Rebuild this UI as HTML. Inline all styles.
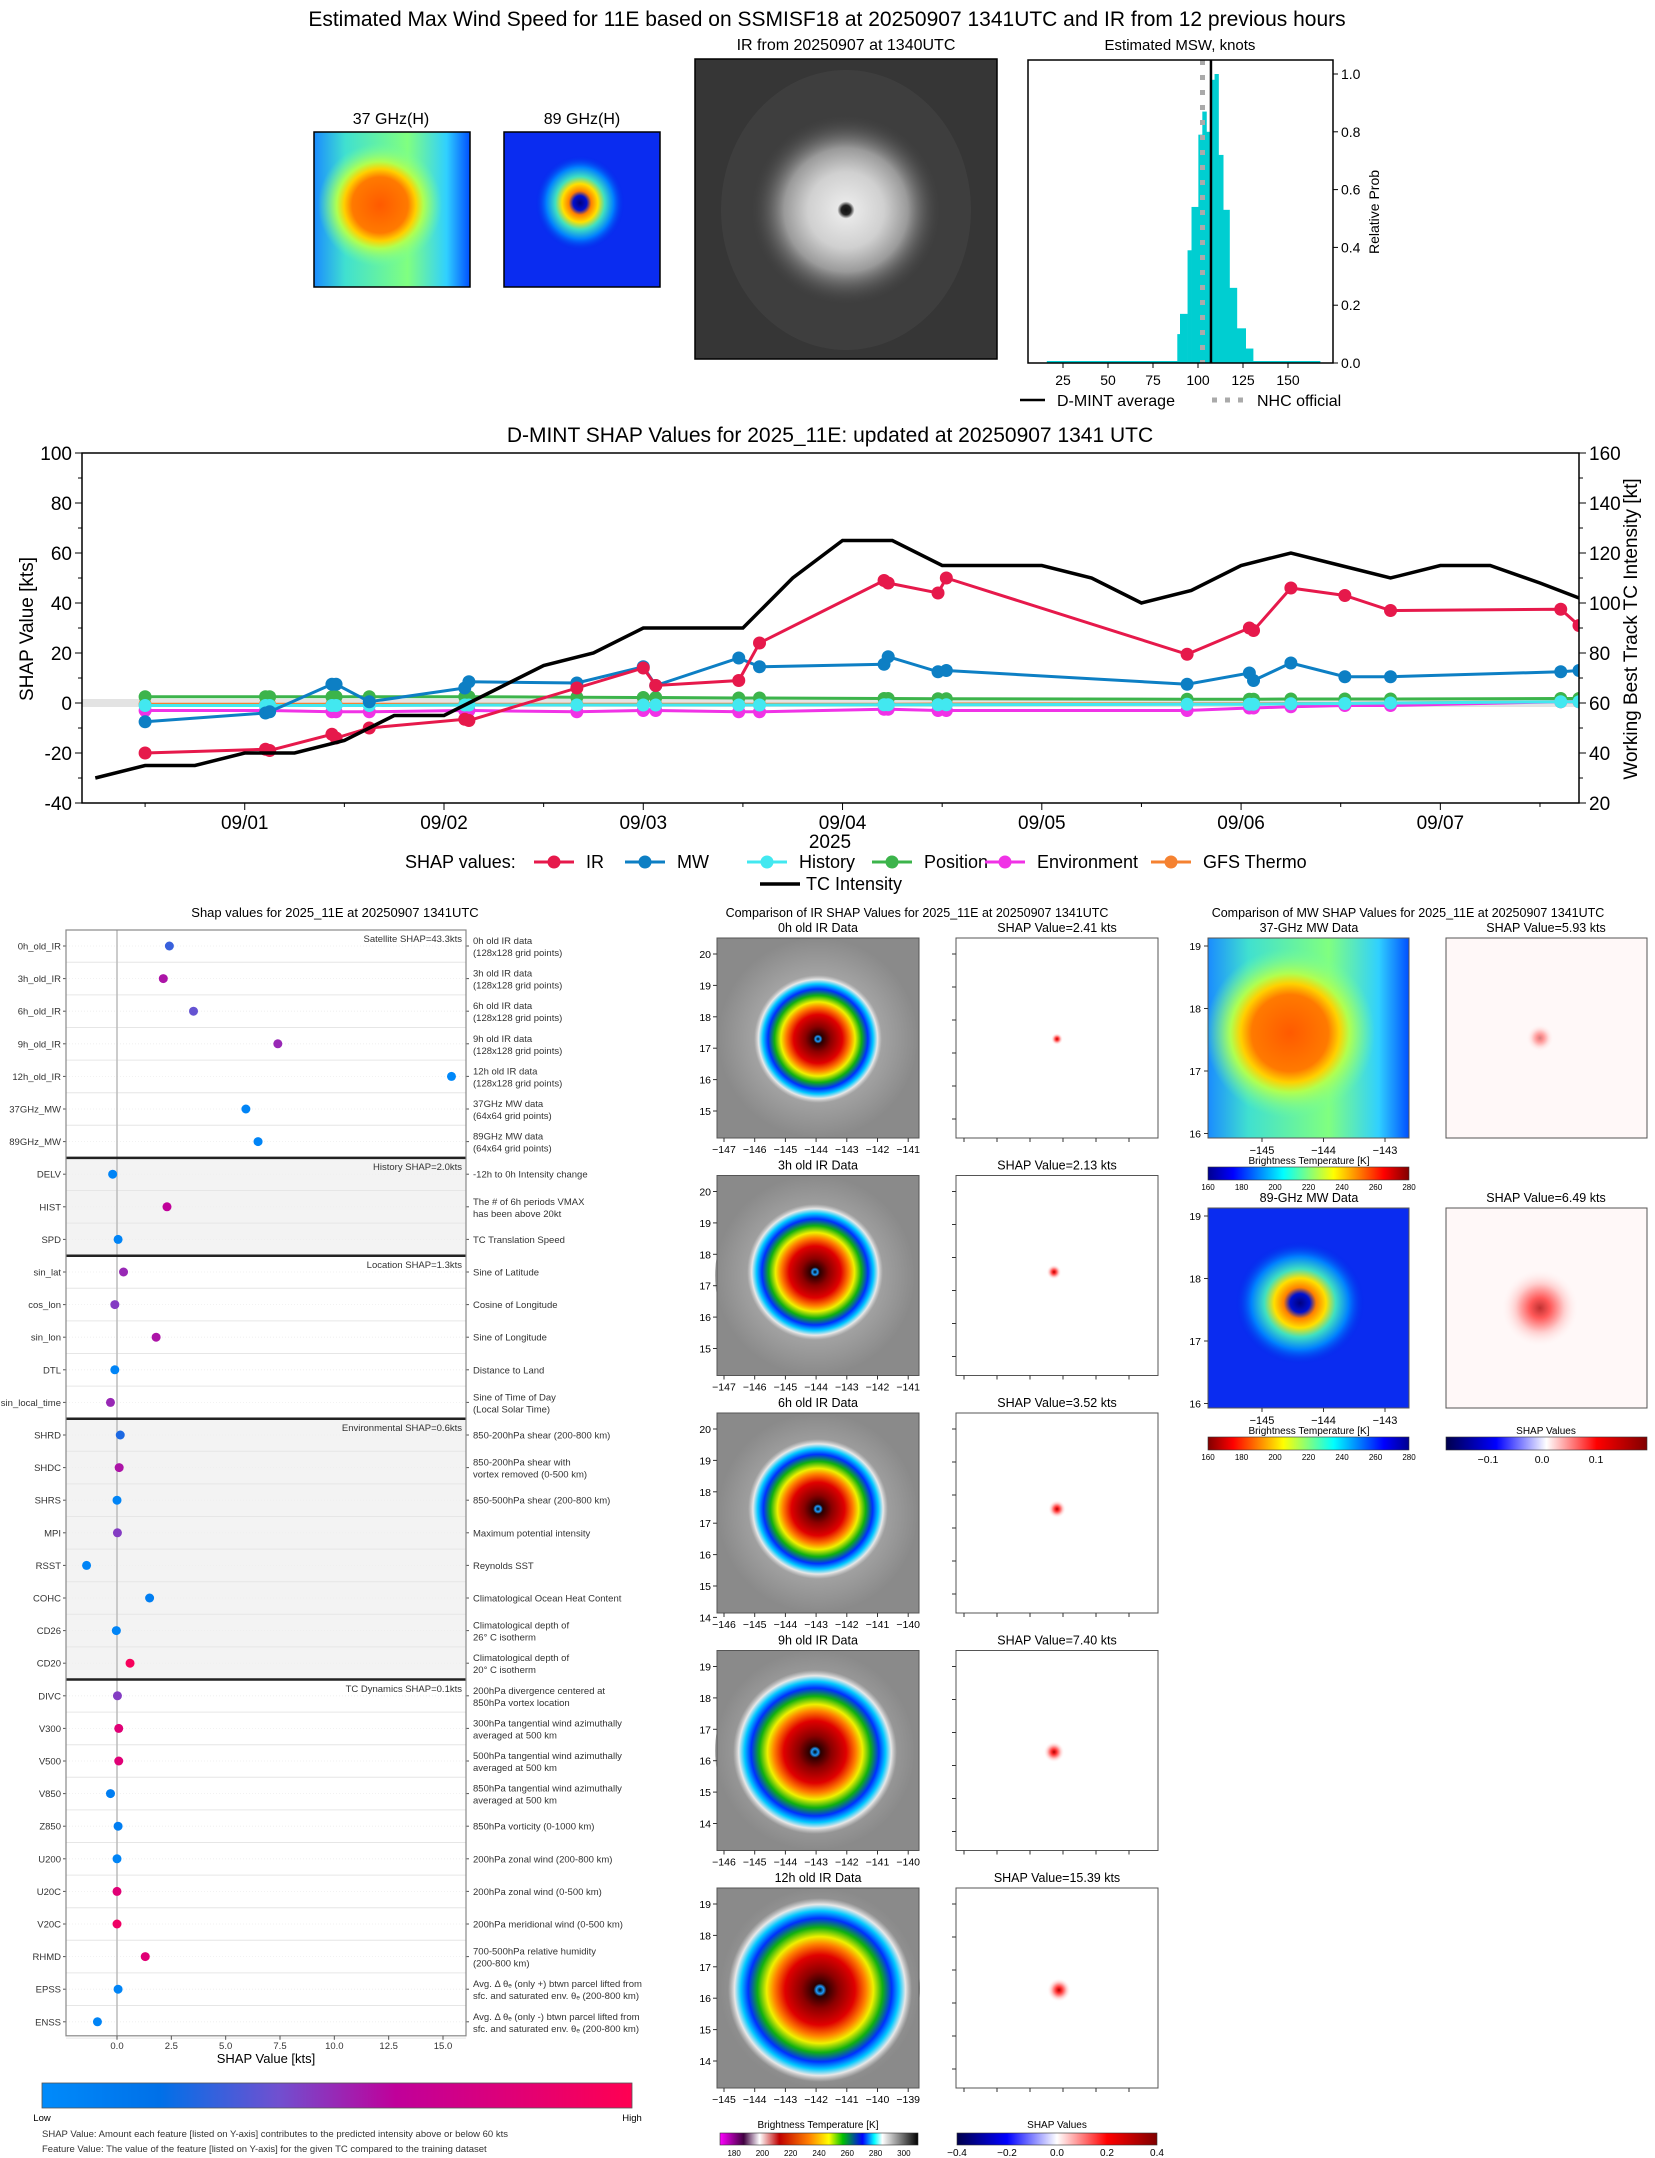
<!DOCTYPE html>
<html><head><meta charset="utf-8"><title>D-MINT 11E</title>
<style>
html,body{margin:0;padding:0;background:#fff;}
svg{display:block;font-family:"Liberation Sans","DejaVu Sans",sans-serif;}
</style></head>
<body>
<svg id="fig" xmlns="http://www.w3.org/2000/svg" width="1655" height="2158" viewBox="0 0 1655 2158">
<defs>
<radialGradient id="irEnh" cx="0.5" cy="0.5" r="0.5">
<stop offset="0" stop-color="#000"/><stop offset="0.04" stop-color="#1a9cff"/><stop offset="0.07" stop-color="#2a0000"/>
<stop offset="0.2" stop-color="#8b0000"/><stop offset="0.38" stop-color="#e00000"/><stop offset="0.5" stop-color="#ff8000"/>
<stop offset="0.58" stop-color="#f0f000"/><stop offset="0.68" stop-color="#10b010"/><stop offset="0.78" stop-color="#0030ff"/>
<stop offset="0.86" stop-color="#00c8ff"/><stop offset="0.93" stop-color="#e8e8e8"/><stop offset="1" stop-color="#d0d0d0" stop-opacity="0"/>
</radialGradient>
<radialGradient id="irGray" cx="0.5" cy="0.5" r="0.5">
<stop offset="0" stop-color="#111"/><stop offset="0.05" stop-color="#222"/><stop offset="0.09" stop-color="#e8e8e8"/>
<stop offset="0.4" stop-color="#d0d0d0"/><stop offset="0.65" stop-color="#9a9a9a"/><stop offset="1" stop-color="#444" stop-opacity="0"/>
</radialGradient>
<radialGradient id="cloudBg" cx="0.5" cy="0.5" r="0.5">
<stop offset="0" stop-color="#e0e0e0"/><stop offset="0.6" stop-color="#b0b0b0"/><stop offset="1" stop-color="#8a8a8a"/>
</radialGradient>
<radialGradient id="mw37" cx="0.5" cy="0.5" r="0.5">
<stop offset="0" stop-color="#ff5a00"/><stop offset="0.45" stop-color="#ff7a00"/><stop offset="0.58" stop-color="#ffd000"/>
<stop offset="0.7" stop-color="#b0ff50"/><stop offset="1" stop-color="#70ffa0" stop-opacity="0"/>
</radialGradient>
<linearGradient id="mw37bg" x1="0" y1="0" x2="1" y2="0">
<stop offset="0" stop-color="#1a8cff"/><stop offset="0.2" stop-color="#40e0d0"/><stop offset="0.6" stop-color="#80ff80"/>
<stop offset="0.85" stop-color="#30d0ff"/><stop offset="1" stop-color="#0050ff"/>
</linearGradient>
<radialGradient id="mw89" cx="0.5" cy="0.5" r="0.5">
<stop offset="0" stop-color="#000080"/><stop offset="0.15" stop-color="#0010d0"/><stop offset="0.25" stop-color="#ff8000"/>
<stop offset="0.4" stop-color="#ffe000"/><stop offset="0.55" stop-color="#40e0c0"/><stop offset="0.75" stop-color="#0080ff"/>
<stop offset="1" stop-color="#0020e8" stop-opacity="0"/>
</radialGradient>
<radialGradient id="shapDot" cx="0.5" cy="0.5" r="0.5">
<stop offset="0" stop-color="#b00000"/><stop offset="0.25" stop-color="#ff3030"/><stop offset="0.6" stop-color="#ffc0c0"/><stop offset="1" stop-color="#fff" stop-opacity="0"/>
</radialGradient>
<linearGradient id="jet" x1="0" y1="0" x2="1" y2="0">
<stop offset="0" stop-color="#00008f"/><stop offset="0.125" stop-color="#0000ff"/><stop offset="0.375" stop-color="#00ffff"/>
<stop offset="0.625" stop-color="#ffff00"/><stop offset="0.875" stop-color="#ff0000"/><stop offset="1" stop-color="#800000"/>
</linearGradient>
<linearGradient id="jetr" x1="1" y1="0" x2="0" y2="0">
<stop offset="0" stop-color="#00008f"/><stop offset="0.125" stop-color="#0000ff"/><stop offset="0.375" stop-color="#00ffff"/>
<stop offset="0.625" stop-color="#ffff00"/><stop offset="0.875" stop-color="#ff0000"/><stop offset="1" stop-color="#800000"/>
</linearGradient>
<linearGradient id="seis" x1="0" y1="0" x2="1" y2="0">
<stop offset="0" stop-color="#00004c"/><stop offset="0.25" stop-color="#0000ff"/><stop offset="0.5" stop-color="#ffffff"/>
<stop offset="0.75" stop-color="#ff0000"/><stop offset="1" stop-color="#800000"/>
</linearGradient>
<linearGradient id="irbar" x1="0" y1="0" x2="1" y2="0">
<stop offset="0" stop-color="#ff00ff"/><stop offset="0.12" stop-color="#400040"/><stop offset="0.2" stop-color="#fff"/>
<stop offset="0.3" stop-color="#c00000"/><stop offset="0.45" stop-color="#ff8000"/><stop offset="0.55" stop-color="#ffff00"/>
<stop offset="0.62" stop-color="#00c000"/><stop offset="0.72" stop-color="#0000ff"/><stop offset="0.78" stop-color="#00ffff"/>
<stop offset="0.82" stop-color="#ffffff"/><stop offset="1" stop-color="#000"/>
</linearGradient>
<linearGradient id="shapcm" x1="0" y1="0" x2="1" y2="0">
<stop offset="0" stop-color="#008bfb"/><stop offset="0.2" stop-color="#0070e8"/><stop offset="0.4" stop-color="#7050d0"/>
<stop offset="0.6" stop-color="#c0009a"/><stop offset="1" stop-color="#ff0052"/>
</linearGradient>
</defs>

<text x="827" y="26" font-size="21" text-anchor="middle">Estimated Max Wind Speed for 11E based on SSMISF18 at 20250907 1341UTC and IR from 12 previous hours</text>

<g>
<text x="391" y="124" font-size="16" text-anchor="middle">37 GHz(H)</text>
<rect x="314" y="132" width="156" height="155" fill="url(#mw37bg)"/>
<ellipse cx="380" cy="205" rx="62" ry="62" fill="url(#mw37)"/>
<rect x="314" y="132" width="156" height="155" fill="none" stroke="#000" stroke-width="1.5"/>
</g>
<g>
<text x="582" y="124" font-size="16" text-anchor="middle">89 GHz(H)</text>
<rect x="504" y="132" width="156" height="155" fill="#0a2cf0"/>
<ellipse cx="580" cy="203" rx="45" ry="48" fill="url(#mw89)"/>
<rect x="504" y="132" width="156" height="155" fill="none" stroke="#000" stroke-width="1.5"/>
</g>
<g>
<text x="846" y="50" font-size="16" text-anchor="middle">IR from 20250907 at 1340UTC</text>
<rect x="695" y="59" width="302" height="300" fill="#363636"/>
<ellipse cx="846" cy="210" rx="125" ry="140" fill="#454545" opacity="0.6"/>
<circle cx="846" cy="210" r="95" fill="url(#irGray)"/>
<rect x="695" y="59" width="302" height="300" fill="none" stroke="#000" stroke-width="1.5"/>
</g>
<g id="hist"></g>
<g id="ts"></g>
<g id="feat"></g>
<g id="irc"></g>
<g id="mwc"></g>
</svg>

<script>
const NS='http://www.w3.org/2000/svg';
function el(tag,attrs,parent){const e=document.createElementNS(NS,tag);for(const k in attrs)e.setAttribute(k,attrs[k]);parent.appendChild(e);return e;}
function tx(x,y,s,size,anchor,parent){const t=el('text',{x:x,y:y,'font-size':size,'text-anchor':anchor||'middle'},parent);t.textContent=s;return t;}

const histEdges=[88.5,90,94.2,96.4,100.2,102.4,104.7,107.3,109.2,111.4,114,117.5,121.6,126.5,130.6];
const histProb=[0.10,0.17,0.39,0.54,0.79,0.87,0.80,0.98,1.0,0.72,0.53,0.26,0.12,0.05];
const histTicksX=[25,50,75,100,125,150];
const histTicksY=[0,0.2,0.4,0.6,0.8,1.0];
const dmintAvg=107.2;
const nhcOfficial=102.5;
(function(){
 const g=document.getElementById('hist');
 const L=1028,R=1333,T=60,B=363;
 const hx=v=>1063+(v-25)*1.8, hy=p=>B-(p)*(B-74);
 tx(1180,50,'Estimated MSW, knots',15,'middle',g);
 const base=el('line',{x1:hx(16),x2:hx(168),y1:hy(0)-1,y2:hy(0)-1,stroke:'#00ced1','stroke-width':2},g);
 
 
 for(let i=0;i<histProb.length;i++){
  const r=el('rect',{x:hx(histEdges[i]),y:hy(histProb[i]),width:hx(histEdges[i+1])-hx(histEdges[i])+0.3,height:hy(0)-hy(histProb[i]),fill:'#00ced1'},g);
  
  
 }
 const nl=el('line',{x1:hx(nhcOfficial),x2:hx(nhcOfficial),y1:T,y2:B,stroke:'#aaa','stroke-width':5,'stroke-dasharray':'5,10'},g);
 
 
 const dl=el('line',{x1:hx(dmintAvg),x2:hx(dmintAvg),y1:T,y2:B,stroke:'#000','stroke-width':2.5},g);
 
 
 const fr=el('rect',{x:L,y:T,width:R-L,height:B-T,fill:'none',stroke:'#000','stroke-width':1.5},g);
 
 
 histTicksX.forEach(v=>{el('line',{x1:hx(v),x2:hx(v),y1:B,y2:B+5,stroke:'#000'},g);const t=tx(hx(v),B+22,String(v),14,'middle',g);});
 histTicksY.forEach(v=>{el('line',{x1:R,x2:R+5,y1:hy(v),y2:hy(v),stroke:'#000'},g);const t=tx(R+8,hy(v)+5,v.toFixed(1),14,'start',g);});
 const yl=tx(0,0,'Relative Prob',14,'middle',g);yl.setAttribute('transform','translate(1379,212) rotate(-90)');
 
 el('line',{x1:1020,x2:1045,y1:400,y2:400,stroke:'#000','stroke-width':2.5},g);
 const l1=tx(1057,406,'D-MINT average',16,'start',g);
 el('line',{x1:1212,x2:1244,y1:400,y2:400,stroke:'#aaa','stroke-width':5,'stroke-dasharray':'5,8'},g);
 const l2=tx(1257,406,'NHC official',16,'start',g);
})();

const tcHours=[6,12,18,24,30,36,42,48,54,60,66,72,78,84,90,96,102,108,114,120,126,132,138,144,150,156,162,168,174,180,184.7];
const tcIntensity=[30,35,35,40,40,45,55,55,65,75,80,90,90,90,110,125,125,115,115,115,110,100,105,115,120,115,110,115,115,108,102];
const shapHours=[12,26.5,27,34.5,35,39,50.5,51,64,72,73.5,83.5,86,101,101.5,107.5,108.5,137.5,145,145.5,150,156.5,162,182.5,184.7];
const shapIR=[-20,-18.5,-19,-12.5,-14,-10,-6.5,-7,6,14,7,9,24,49,48,44,50,19.5,30,29,46,43,37,37.5,31];
const shapMW=[-7.5,-4,-3.5,7.5,7.5,0.5,6,8.5,8,14.5,7,18,14.5,15.5,18.5,12.5,13,7.5,12,9,16,10.5,10.5,12.5,13];
const shapHistory=[-1,-1,-1,-1,-1,-1,-0.8,-0.8,-0.8,-0.8,-0.8,-0.8,-0.8,-0.7,-0.7,-0.7,-0.7,-0.5,-0.5,-0.5,-0.3,-0.2,0,0.5,0.5];
const shapPosition=[2.5,2.5,2.5,2.5,2.5,2.5,2.5,2.5,2.3,2.2,2.2,2,2,1.8,1.8,1.7,1.7,1.5,1.5,1.5,1.6,1.6,1.6,1.8,1.8];
const shapEnvironment=[-3,-3,-3,-3.5,-3.5,-3.5,-3,-3,-3.5,-3,-3,-3.5,-3.5,-2.5,-2.5,-3,-3,-3,-2,-2,-1.5,-1,-1,0.5,0.5];
const shapGFS=[-0.5,-0.5,-0.5,-0.5,-0.5,-0.5,-0.5,-0.5,-0.5,-0.5,-0.5,-0.5,-0.5,-0.5,-0.5,-0.4,-0.4,-0.3,-0.3,-0.3,-0.2,-0.2,0,0.5,0.5];
const dayLabels=['09/01','09/02','09/03','09/04','09/05','09/06','09/07'];
const leftTicks=[-40,-20,0,20,40,60,80,100];
const rightTicks=[20,40,60,80,100,120,140,160];
(function(){
 const g=document.getElementById('ts');
 const L=82,R=1579,T=453,B=803,h0=4.4,h1=184.7;
 const xh=h=>L+(h-h0)*(R-L)/(h1-h0);
 const yv=v=>703-2.5*v;
 const yk=k=>yv(k-60);
 const cp=el('clipPath',{id:'tsclip'},g);el('rect',{x:L,y:T,width:R-L,height:B-T},cp);
 const ti=tx(830,442,'D-MINT SHAP Values for 2025_11E: updated at 20250907 1341 UTC',21,'middle',g);
 
 const band=el('rect',{x:L,y:yv(0)-4,width:R-L,height:8,fill:'#e3e3e3'},g);
 
 
 const pg=el('g',{'clip-path':'url(#tsclip)'},g);
 const series=[['IR',shapIR,'#e6194b'],['MW',shapMW,'#0d7fc4'],['History',shapHistory,'#42e8f0'],['Position',shapPosition,'#3cb44b'],['Environment',shapEnvironment,'#f032e6'],['GFS Thermo',shapGFS,'#f58231']];
 const order=[5,4,3,2,1,0];
 order.forEach(si=>{
  const [nm,vals,col]=series[si];
  const pts=shapHours.map((h,i)=>xh(h)+','+yv(vals[i])).join(' ');
  const pl=el('polyline',{points:pts,fill:'none',stroke:col,'stroke-width':3},pg);
  
  
  shapHours.forEach((h,i)=>{
   const c=el('circle',{cx:xh(h),cy:yv(vals[i]),r:6.5,fill:col},pg);
   
   
  });
 });
 const bl=el('polyline',{points:tcHours.map((h,i)=>xh(h)+','+yk(tcIntensity[i])).join(' '),fill:'none',stroke:'#000','stroke-width':3.5},pg);
 
 
 const fr=el('rect',{x:L,y:T,width:R-L,height:B-T,fill:'none',stroke:'#000','stroke-width':1.5},g);
 
 
 for(let v=-40;v<=100;v+=10)el('line',{x1:L-(v%20===0?7:4),x2:L,y1:yv(v),y2:yv(v),stroke:'#000'},g);
 leftTicks.forEach(v=>{const t=tx(L-10,yv(v)+7,String(v),19,'end',g);});
 for(let k=20;k<=160;k+=10)el('line',{x1:R,x2:R+(k%20===0?7:4),y1:yk(k),y2:yk(k),stroke:'#000'},g);
 rightTicks.forEach(k=>{const t=tx(R+10,yk(k)+7,String(k),19,'start',g);});
 for(let h=12;h<=180;h+=12){if(h>h0)el('line',{x1:xh(h),x2:xh(h),y1:B,y2:B+(h%24===0?7:4),stroke:'#000'},g);}
 dayLabels.forEach((d,i)=>{const t=tx(xh(24*(i+1)),B+26,d,19,'middle',g);});
 const yr=tx(830,848,'2025',19,'middle',g);
 const yl=tx(0,0,'SHAP Value [kts]',19,'middle',g);yl.setAttribute('transform','translate(33,629) rotate(-90)');
 
 const yr2=tx(0,0,'Working Best Track TC Intensity [kt]',19,'middle',g);yr2.setAttribute('transform','translate(1637,629) rotate(-90)');
 
 const lg=el('g',{},g);
 const lt=tx(405,868,'SHAP values:',18,'start',lg);
 const legX=[534,625,747,872,985,1151];
 series.forEach((s,i)=>{
  el('line',{x1:legX[i],x2:legX[i]+40,y1:862,y2:862,stroke:s[2],'stroke-width':3},lg);
  el('circle',{cx:legX[i]+20,cy:862,r:6.5,fill:s[2]},lg);
  const t=tx(legX[i]+52,868,s[0],18,'start',lg);
  
 });
 el('line',{x1:760,x2:800,y1:884,y2:884,stroke:'#000','stroke-width':3.5},lg);
 const tl=tx(806,890,'TC Intensity',18,'start',lg);
})();

const featNames=['0h_old_IR','3h_old_IR','6h_old_IR','9h_old_IR','12h_old_IR','37GHz_MW','89GHz_MW','DELV','HIST','SPD','sin_lat','cos_lon','sin_lon','DTL','sin_local_time','SHRD','SHDC','SHRS','MPI','RSST','COHC','CD26','CD20','DIVC','V300','V500','V850','Z850','U200','U20C','V20C','RHMD','EPSS','ENSS'];
const featShap=[2.41,2.13,3.52,7.40,15.39,5.93,6.49,-0.2,2.3,0.05,0.3,-0.1,1.8,-0.1,-0.3,0.15,0.1,0,0.02,-1.4,1.5,-0.03,0.6,0.02,0.08,0.08,-0.3,0.05,0,0,0,1.3,0.05,-0.9];
const featLevel=[0.3,0.55,0.38,0.5,0.02,0.05,0.05,0.05,0.6,0.05,0.5,0.45,0.55,0.05,0.5,0.25,0.55,0.05,0.45,0.05,0.1,0.05,0.95,0.45,0.8,0.8,0.1,0.1,0.05,0.8,0.9,0.8,0.05,0.05];
const featDesc=[['0h old IR data','(128x128 grid points)'],['3h old IR data','(128x128 grid points)'],['6h old IR data','(128x128 grid points)'],['9h old IR data','(128x128 grid points)'],['12h old IR data','(128x128 grid points)'],['37GHz MW data','(64x64 grid points)'],['89GHz MW data','(64x64 grid points)'],
['-12h to 0h Intensity change'],['The # of 6h periods VMAX','has been above 20kt'],['TC Translation Speed'],
['Sine of Latitude'],['Cosine of Longitude'],['Sine of Longitude'],['Distance to Land'],['Sine of Time of Day','(Local Solar Time)'],
['850-200hPa shear (200-800 km)'],['850-200hPa shear with','vortex removed (0-500 km)'],['850-500hPa shear (200-800 km)'],['Maximum potential intensity'],['Reynolds SST'],['Climatological Ocean Heat Content'],['Climatological depth of','26° C isotherm'],['Climatological depth of','20° C isotherm'],
['200hPa divergence centered at','850hPa vortex location'],['300hPa tangential wind azimuthally','averaged at 500 km'],['500hPa tangential wind azimuthally','averaged at 500 km'],['850hPa tangential wind azimuthally','averaged at 500 km'],['850hPa vorticity (0-1000 km)'],['200hPa zonal wind (200-800 km)'],['200hPa zonal wind (0-500 km)'],['200hPa meridional wind (0-500 km)'],['700-500hPa relative humidity','(200-800 km)'],['Avg. Δ θₑ (only +) btwn parcel lifted from','sfc. and saturated env. θₑ (200-800 km)'],['Avg. Δ θₑ (only -) btwn parcel lifted from','sfc. and saturated env. θₑ (200-800 km)']];
const groupNames=['Satellite SHAP=43.3kts','History SHAP=2.0kts','Location SHAP=1.3kts','Environmental SHAP=0.6kts','TC Dynamics SHAP=0.1kts'];
const groupStart=[0,7,10,15,23];
const shapTicks=[0,2.5,5,7.5,10,12.5,15];
function cmap(t){const st=[[0,[0,139,251]],[0.2,[0,112,232]],[0.4,[112,80,208]],[0.6,[192,0,154]],[1,[255,0,82]]];
 for(let i=1;i<st.length;i++){if(t<=st[i][0]){const a=st[i-1],b=st[i],f=(t-a[0])/(b[0]-a[0]);return 'rgb('+a[1].map((c,j)=>Math.round(c+(b[1][j]-c)*f)).join(',')+')';}}return 'rgb(255,0,82)';}
(function(){
 const g=document.getElementById('feat');
 const L=66,R=466,T=930,rowH=32.6,y0=946;
 const B=y0+33*rowH+14;
 const xs=v=>117+(v)*(443-117)/15;
 const ry=i=>y0+i*rowH;
 const tt=tx(335,917,'Shap values for 2025_11E at 20250907 1341UTC',13,'middle',g);
 [[7,10],[15,23]].forEach(([a,b])=>{const r=el('rect',{x:L,y:ry(a)-rowH/2,width:R-L,height:(b-a)*rowH,fill:'#f3f3f3'},g);});
 featNames.forEach((n,i)=>{
  el('line',{x1:L,x2:R,y1:ry(i)+rowH/2,y2:ry(i)+rowH/2,stroke:'#e6e6e6','stroke-width':1},g);
  el('line',{x1:L,x2:R,y1:ry(i),y2:ry(i),stroke:'#eee','stroke-width':0.8,'stroke-dasharray':'1,2'},g);
 });
 const zl=el('line',{x1:xs(0),x2:xs(0),y1:T,y2:B,stroke:'#bbb','stroke-width':1.5},g);
 groupStart.forEach((s,k)=>{
  if(k>0){const l=el('line',{x1:L,x2:R,y1:ry(s)-rowH/2,y2:ry(s)-rowH/2,stroke:'#222','stroke-width':2.5},g);}
  const t=tx(R-4,ry(s)-4,groupNames[k],9.5,'end',g);t.setAttribute('fill','#333');
  
 });
 featNames.forEach((n,i)=>{
  const t=tx(L-5,ry(i)+3.5,n,9.5,'end',g);t.setAttribute('fill','#333');
  
  el('line',{x1:L-3,x2:L,y1:ry(i),y2:ry(i),stroke:'#555'},g);
  el('line',{x1:R,x2:R+3,y1:ry(i),y2:ry(i),stroke:'#555'},g);
  const d=featDesc[i];
  d.forEach((s,j)=>{const dt=tx(473,ry(i)+(d.length===1?3.5:-2+j*12),s,9.5,'start',g);dt.setAttribute('fill','#333');});
  const c=el('circle',{cx:xs(featShap[i]),cy:ry(i),r:4.5,fill:cmap(featLevel[i])},g);
  
  
 });
 const fr=el('rect',{x:L,y:T,width:R-L,height:B-T,fill:'none',stroke:'#888','stroke-width':1.2},g);
 shapTicks.forEach(v=>{el('line',{x1:xs(v),x2:xs(v),y1:B,y2:B+4,stroke:'#555'},g);const t=tx(xs(v),B+13,v.toFixed(1),9.5,'middle',g);t.setAttribute('fill','#333');});
 const xl=tx(266,2063,'SHAP Value [kts]',13,'middle',g);
 const cb=el('rect',{x:42,y:2083,width:590,height:25,fill:'url(#shapcm)',stroke:'#555','stroke-width':0.8},g);
 tx(42,2121,'Low',9.5,'middle',g);
 tx(632,2121,'High',9.5,'middle',g);
 const n1=tx(42,2137,'SHAP Value: Amount each feature [listed on Y-axis] contributes to the predicted intensity above or below 60 kts',9.5,'start',g);n1.setAttribute('fill','#333');
 const n2=tx(42,2152,'Feature Value: The value of the feature [listed on Y-axis] for the given TC compared to the training dataset',9.5,'start',g);n2.setAttribute('fill','#333');
})();

const irRowTitles=['0h old IR Data','3h old IR Data','6h old IR Data','9h old IR Data','12h old IR Data'];
const irShapVals=['2.41','2.13','3.52','7.40','15.39'];
const irXStart=[-147,-147,-146,-146,-145];
const irYTop=[20,20,20,19,19];
const irNYTicks=[6,6,7,6,6];
(function(){
 const g=document.getElementById('irc');
 const t=tx(917,917,'Comparison of IR SHAP Values for 2025_11E at 20250907 1341UTC',12.5,'middle',g);
 const eyes=[[818,1039,64],[815,1272,68],[818,1509,70],[815,1752,82],[820,1990,92]];
 irRowTitles.forEach((rt,i)=>{
  const top=938+i*237.5;
  const rg=el('g',{},g);
  const ti=tx(818,top-6,rt,12.5,'middle',rg);
  el('rect',{x:717,y:top,width:202,height:200,fill:'#8a8a8a'},rg);
  el('ellipse',{cx:eyes[i][0],cy:top+100,rx:100,ry:100,fill:'url(#cloudBg)',opacity:0.7},rg);
  const st=el('circle',{cx:eyes[i][0],cy:eyes[i][1],r:eyes[i][2],fill:'url(#irEnh)'},rg);
  
  el('rect',{x:717,y:top,width:202,height:200,fill:'none',stroke:'#555'},rg);
  for(let k=0;k<irNYTicks[i];k++){const yy=top+16+k*31.4;el('line',{x1:713,x2:717,y1:yy,y2:yy,stroke:'#333'},rg);const yt=tx(711,yy+4,String(irYTop[i]-k),10.5,'end',rg);}
  for(let k=0;k<7;k++){const xx=724+k*30.7;el('line',{x1:xx,x2:xx,y1:top+200,y2:top+204,stroke:'#333'},rg);const xt=tx(xx,top+215,'\u2212'+String(-(irXStart[i]+k)),10.5,'middle',rg);}
  const sti=tx(1057,top-6,'SHAP Value='+irShapVals[i]+' kts',12.5,'middle',rg);
  el('rect',{x:956,y:top,width:202,height:200,fill:'#fff',stroke:'#555'},rg);
  const sd=el('circle',{cx:eyes[i][0]+239,cy:eyes[i][1],r:6+i*1.5,fill:'url(#shapDot)'},rg);
  
  for(let k=0;k<6;k++){el('line',{x1:952,x2:956,y1:top+16+k*33,y2:top+16+k*33,stroke:'#333'},rg);el('line',{x1:964+k*33,x2:964+k*33,y1:top+200,y2:top+204,stroke:'#333'},rg);}
 });
 const c1=tx(818,2128,'Brightness Temperature [K]',10,'middle',g);
 const cb1=el('rect',{x:720,y:2133,width:198,height:12,fill:'url(#irbar)',stroke:'#333','stroke-width':0.6},g);
 [180,200,220,240,260,280,300].forEach((v,k)=>{tx(720+(v-170)*198/140,2156,String(v),8,'middle',g);});
 const c2=tx(1057,2128,'SHAP Values',10,'middle',g);
 const cb2=el('rect',{x:957,y:2133,width:200,height:12,fill:'url(#seis)',stroke:'#333','stroke-width':0.6},g);
 ['\u22120.4','\u22120.2','0.0','0.2','0.4'].forEach((s,k)=>{tx(957+k*50,2156,s,10,'middle',g);});
})();

const mwTitles=['37-GHz MW Data','89-GHz MW Data'];
const mwShapVals=['5.93','6.49'];
const mwYTicks=[19,18,17,16];
const mwXTicks=[-145,-144,-143];
(function(){
 const g=document.getElementById('mwc');
 const t=tx(1408,917,'Comparison of MW SHAP Values for 2025_11E at 20250907 1341UTC',12.5,'middle',g);
 const tops=[938,1208];
 mwTitles.forEach((mt,i)=>{
  const top=tops[i];
  const rg=el('g',{},g);
  tx(1309,top-6,mt,12.5,'middle',rg);
  if(i===0){el('rect',{x:1208,y:top,width:201,height:200,fill:'url(#mw37bg)'},rg);el('ellipse',{cx:1290,cy:top+95,rx:85,ry:85,fill:'url(#mw37)'},rg);}
  else{el('rect',{x:1208,y:top,width:201,height:200,fill:'#0a2cf0'},rg);el('ellipse',{cx:1300,cy:top+95,rx:65,ry:62,fill:'url(#mw89)'},rg);}
  el('rect',{x:1208,y:top,width:201,height:200,fill:'none',stroke:'#555'},rg);
  mwYTicks.forEach((v,k)=>{const yy=top+8+k*62.5;el('line',{x1:1204,x2:1208,y1:yy,y2:yy,stroke:'#333'},rg);tx(1201,yy+4,String(v),10.5,'end',rg);});
  mwXTicks.forEach((v,k)=>{const xx=1262+k*61.5;el('line',{x1:xx,x2:xx,y1:top+200,y2:top+204,stroke:'#333'},rg);tx(xx,top+216,'\u2212'+String(-v),11,'middle',rg);});
  tx(1546,top-6,'SHAP Value='+mwShapVals[i]+' kts',12.5,'middle',rg);
  el('rect',{x:1446,y:top,width:201,height:200,fill:'#fff8f8',stroke:'#555'},rg);
  const sd=el('circle',{cx:1540,cy:top+100,r:i===0?14:40,fill:'url(#shapDot)',opacity:i===0?0.5:0.8},rg);
  
  tx(1309,top+226,'Brightness Temperature [K]',10,'middle',rg);
  const cb=el('rect',{x:1208,y:top+229,width:201,height:13,fill:i===0?'url(#jet)':'url(#jetr)',stroke:'#333','stroke-width':0.6},rg);
  
  [160,180,200,220,240,260,280].forEach((v,k)=>{tx(1208+k*33.5,top+252,String(v),8,'middle',rg);});
 });
 tx(1546,1434,'SHAP Values',10,'middle',g);
 const cb=el('rect',{x:1446,y:1437,width:201,height:13,fill:'url(#seis)',stroke:'#333','stroke-width':0.6},g);
 ['\u22120.1','0.0','0.1'].forEach((s,k)=>{tx(1488+k*54,1463,s,10.5,'middle',g);});
})();
</script>
</body></html>
